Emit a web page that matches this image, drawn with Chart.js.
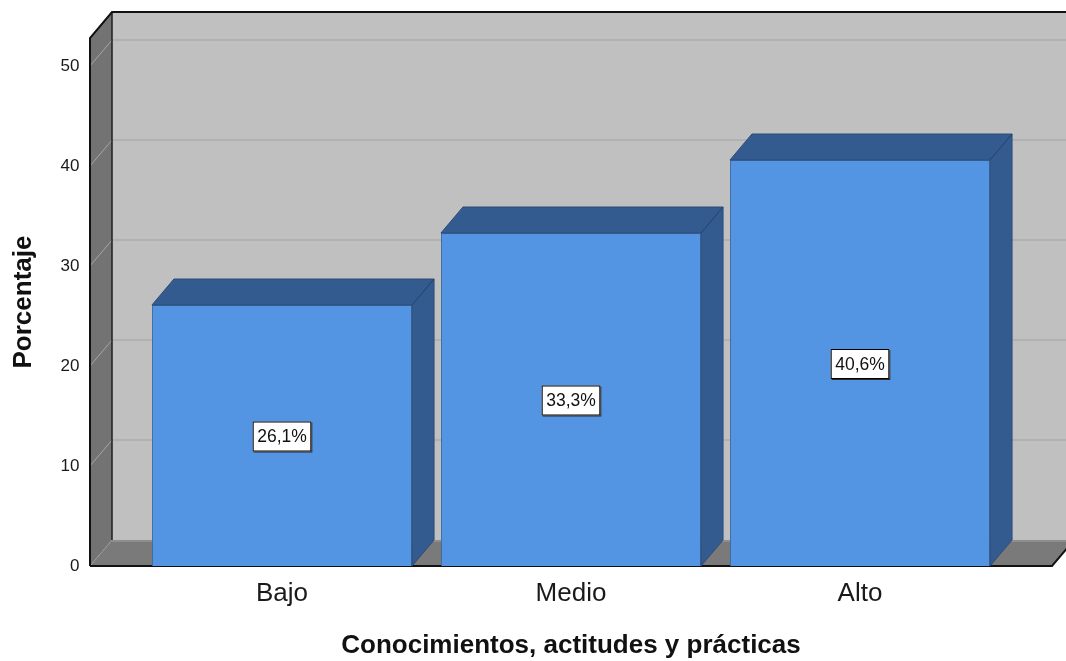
<!DOCTYPE html>
<html lang="es">
<head>
<meta charset="utf-8">
<title>Conocimientos, actitudes y prácticas</title>
<script src="https://cdn.jsdelivr.net/npm/chart.js@4.4.1/dist/chart.umd.min.js"></script>
<style>
  html, body { margin: 0; padding: 0; background: #ffffff; }
  canvas { display: block; }
</style>
</head>
<body>
<canvas id="grafico" width="1066" height="661"></canvas>
<script>
// niveles y porcentajes
const categorias = ['Bajo', 'Medio', 'Alto'];
const porcentajes = [26.1, 33.3, 40.6];
const marcasY = [0, 10, 20, 30, 40, 50];
const topeY = 52.8;

const FUENTE = '"Liberation Sans", Arial, sans-serif';
const PROF_X = 22, PROF_Y = -26; // profundidad de la caja 3D
const MARGEN = 47.5;             // el suelo sobresale del area de las categorias

Chart.defaults.font.family = FUENTE;

function formatear(v) {
    return v.toFixed(1).replace('.', ',') + '%';
}

function poligono(ctx, pts, relleno, trazo, grosor) {
    ctx.beginPath();
    ctx.moveTo(pts[0][0], pts[0][1]);
    for (let i = 1; i < pts.length; i++) ctx.lineTo(pts[i][0], pts[i][1]);
    ctx.closePath();
    if (relleno) { ctx.fillStyle = relleno; ctx.fill(); }
    if (trazo) { ctx.strokeStyle = trazo; ctx.lineWidth = grosor || 1; ctx.stroke(); }
}

function linea(ctx, pts, color, grosor, guiones) {
    ctx.beginPath();
    ctx.moveTo(pts[0][0], pts[0][1]);
    for (let i = 1; i < pts.length; i++) ctx.lineTo(pts[i][0], pts[i][1]);
    ctx.strokeStyle = color;
    ctx.lineWidth = grosor;
    ctx.setLineDash(guiones || []);
    ctx.stroke();
    ctx.setLineDash([]);
}

const caja3d = {
    id: 'caja3d',
    beforeDatasetsDraw(chart) {
        const {ctx, chartArea: a, scales: {y}} = chart;
        const L = a.left - MARGEN, R = a.right + MARGEN, T = a.top, B = a.bottom;
        const W = chart.width + 10;
        ctx.save();
        // pared del fondo
        poligono(ctx, [[L + PROF_X, T + PROF_Y], [W, T + PROF_Y], [W, B + PROF_Y], [L + PROF_X, B + PROF_Y]], '#c0c0c0');
        // lineas de cuadricula
        marcasY.forEach(v => {
            if (v === 0) return;
            const py = y.getPixelForValue(v);
            linea(ctx, [[L + PROF_X, py + PROF_Y], [W, py + PROF_Y]], '#b1b1b1', 2);
        });
        // pared izquierda
        poligono(ctx, [[L, T], [L + PROF_X, T + PROF_Y], [L + PROF_X, B + PROF_Y], [L, B]], '#737373');
        marcasY.forEach(v => {
            if (v === 0) return;
            const py = y.getPixelForValue(v);
            linea(ctx, [[L, py], [L + PROF_X, py + PROF_Y]], '#a6a6a6', 1);
        });
        // suelo
        poligono(ctx, [[L, B], [L + PROF_X, B + PROF_Y], [W, B + PROF_Y], [R + PROF_X, B + PROF_Y], [R, B]], '#7a7a7a');
        linea(ctx, [[L + PROF_X, B + PROF_Y + 1], [R + PROF_X, B + PROF_Y + 1]], '#8e8e8e', 2);
        linea(ctx, [[L, B], [L + PROF_X, B + PROF_Y]], '#a0a0a0', 1, [2, 2]);
        // aristas
        linea(ctx, [[L + PROF_X, T + PROF_Y], [L + PROF_X, B + PROF_Y]], '#1e1e1e', 1.5);
        linea(ctx, [[L, B], [L, T], [L + PROF_X, T + PROF_Y], [W, T + PROF_Y]], '#111111', 2);
        linea(ctx, [[L, B], [R, B], [R + PROF_X, B + PROF_Y]], '#111111', 2);
        ctx.restore();
    },
    afterDatasetsDraw(chart) {
        const ctx = chart.ctx;
        const meta = chart.getDatasetMeta(0);
        ctx.save();
        meta.data.forEach((barra, i) => {
            const {x, y, base, width} = barra.getProps(['x', 'y', 'base', 'width'], true);
            const x1 = x - width / 2, x2 = x + width / 2;
            // cara superior y lateral
            poligono(ctx, [[x1, y], [x1 + PROF_X, y + PROF_Y], [x2 + PROF_X, y + PROF_Y], [x2, y]], '#345b8f', '#2c4d7a', 1);
            poligono(ctx, [[x2, y], [x2 + PROF_X, y + PROF_Y], [x2 + PROF_X, base + PROF_Y], [x2, base]], '#345b8f', '#2c4d7a', 1);
            linea(ctx, [[x2, y], [x2 + PROF_X, y + PROF_Y]], '#27456e', 1);

            // etiqueta del valor
            const texto = formatear(porcentajes[i]);
            ctx.font = '17.5px ' + FUENTE;
            const an = ctx.measureText(texto).width + 9;
            const al = 30;
            const cx = x, cy = (y + base) / 2 + 1;
            ctx.fillStyle = '#2a2a2a';
            ctx.fillRect(cx - an / 2 + 1, cy - al / 2 + 1, an, al);
            ctx.fillStyle = '#ffffff';
            ctx.fillRect(cx - an / 2, cy - al / 2, an, al);
            ctx.strokeStyle = '#000000';
            ctx.lineWidth = 1;
            ctx.strokeRect(cx - an / 2 + 0.5, cy - al / 2 + 0.5, an - 1, al - 1);
            ctx.fillStyle = '#111111';
            ctx.textAlign = 'center';
            ctx.textBaseline = 'middle';
            ctx.fillText(texto, cx, cy + 1);
        });
        ctx.restore();
    }
};

const ctx = document.getElementById('grafico').getContext('2d');

new Chart(ctx, {
    type: 'bar',
    data: {
        labels: categorias,
        datasets: [{
            label: 'Porcentaje',
            data: porcentajes,
            backgroundColor: '#5394e3',
            borderColor: '#3e6a9f',
            borderWidth: 1,
            barPercentage: 0.9,
            categoryPercentage: 1
        }]
    },
    options: {
        responsive: false,
        animation: false,
        devicePixelRatio: 1,
        layout: { padding: { left: 0, top: 38, right: 61.5, bottom: 0 } },
        plugins: {
            legend: { display: false },
            tooltip: { enabled: false }
        },
        scales: {
            x: {
                grid: { display: false, drawTicks: false },
                border: { display: false },
                ticks: { color: '#1a1a1a', font: { size: 26 }, padding: 12 },
                title: {
                    display: true,
                    text: 'Conocimientos, actitudes y prácticas',
                    color: '#111111',
                    font: { size: 26, weight: 'bold' },
                    padding: { top: 0, bottom: 0 }
                },
                afterFit(escala) { escala.height = 95; }
            },
            y: {
                min: 0,
                max: topeY,
                // las marcas no se dibujan; su longitud separa los numeros de la caja
                grid: { display: false, drawTicks: true, tickLength: 56 },
                border: { display: false },
                afterBuildTicks(escala) { escala.ticks = marcasY.map(v => ({ value: v })); },
                ticks: { color: '#1a1a1a', font: { size: 17 }, padding: 2 },
                title: {
                    display: true,
                    text: 'Porcentaje',
                    color: '#111111',
                    font: { size: 26, weight: 'bold' },
                    padding: { top: 8, bottom: 0 }
                },
                afterFit(escala) { escala.width = 137.5; }
            }
        }
    },
    plugins: [caja3d]
});
</script>
</body>
</html>
